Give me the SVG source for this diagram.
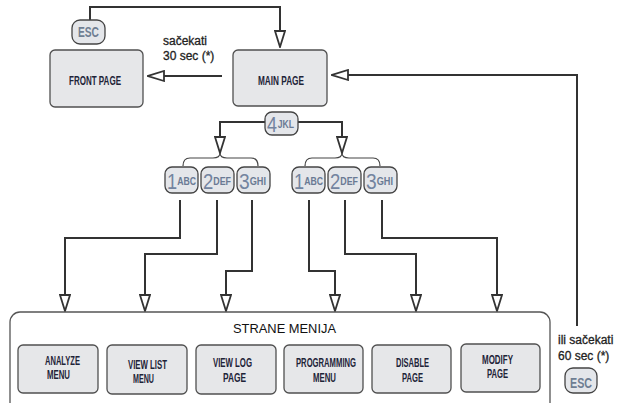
<svg xmlns="http://www.w3.org/2000/svg" width="619" height="403" viewBox="0 0 619 403">
<style>
.box{fill:#e6e7e9;stroke:#505050;stroke-width:1.3}
.key{fill:#e4e6ea;stroke:#444;stroke-width:1.3}
.bt{font-family:"Liberation Sans",Arial,sans-serif;font-weight:bold;font-size:12px;fill:#1e2438}
.kt{font-family:"Liberation Sans",Arial,sans-serif}
.dig{font-size:22px;fill:#7384a0}
.let{font-size:10.5px;font-weight:bold;fill:#6a7a94}
.esc{font-family:"Liberation Sans",Arial,sans-serif;font-size:14px;font-weight:bold;fill:#6f7e93}
.lbl{font-family:"Liberation Sans",Arial,sans-serif;font-size:12px;fill:#222;stroke:#222;stroke-width:0.3}
.ln{fill:none;stroke:#333;stroke-width:2}
.br{fill:none;stroke:#444;stroke-width:1.2}
</style>
<defs>
<marker id="ar" markerWidth="18" markerHeight="12" refX="17" refY="6" orient="auto" markerUnits="userSpaceOnUse">
<path d="M1,1 L17,6 L1,11 z" fill="#fff" stroke="#333" stroke-width="1.8"/>
</marker>
</defs>

<g id="connectors">
<path class="ln" d="M90,20 V7 H280 V47" marker-end="url(#ar)"/>
<path class="ln" d="M222,76 H148" marker-end="url(#ar)"/>
<path class="ln" d="M577,326 V75 H332" marker-end="url(#ar)"/>
<path class="ln" d="M265,122 H220 V153" marker-end="url(#ar)"/>
<path class="ln" d="M298,122 H342 V153" marker-end="url(#ar)"/>
<path class="br" d="M183,166 Q183,158 190,158 H213 Q220,158 220,153 Q220,158 227,158 H251 Q258,158 258,166"/>
<path class="br" d="M305,166 Q305,158 312,158 H335 Q342,158 342,153 Q342,158 349,158 H373 Q380,158 380,166"/>
<path class="ln" d="M180,200 V238 H65 V311" marker-end="url(#ar)"/>
<path class="ln" d="M217,200 V254 H145 V311" marker-end="url(#ar)"/>
<path class="ln" d="M252,200 V271 H226 V311" marker-end="url(#ar)"/>
<path class="ln" d="M309,200 V271 H335 V311" marker-end="url(#ar)"/>
<path class="ln" d="M345,200 V254 H416 V311" marker-end="url(#ar)"/>
<path class="ln" d="M382,200 V238 H497 V311" marker-end="url(#ar)"/>
</g>

<g id="esc-top">
<rect class="key" x="72" y="20" width="33" height="24" rx="8"/>
<text class="esc" x="78" y="37" textLength="21" lengthAdjust="spacingAndGlyphs">ESC</text>
</g>

<g id="front-page">
<rect class="box" x="50" y="50" width="93" height="57" rx="5"/>
<text class="bt" x="69" y="85" textLength="52" lengthAdjust="spacingAndGlyphs">FRONT PAGE</text>
</g>

<g id="main-page">
<rect class="box" x="233" y="50" width="94" height="56" rx="5"/>
<text class="bt" x="258" y="85" textLength="46" lengthAdjust="spacingAndGlyphs">MAIN PAGE</text>
</g>

<g id="wait30">
<text class="lbl" x="163" y="45">sačekati</text>
<text class="lbl" x="163" y="60">30 sec (*)</text>
</g>

<g id="key-4jkl">
<rect class="key" x="265" y="112" width="33" height="23" rx="7"/>
<text class="kt" x="267" y="132" textLength="27" lengthAdjust="spacingAndGlyphs"><tspan class="dig">4</tspan><tspan class="let" dx="1" dy="-4" font-size="10">JKL</tspan></text>
</g>

<g id="keys-left">
<rect class="key" x="165" y="167" width="33" height="26" rx="7"/>
<text class="kt" x="167" y="189" textLength="29" lengthAdjust="spacingAndGlyphs"><tspan class="dig">1</tspan><tspan class="let" dy="-4">ABC</tspan></text>
<rect class="key" x="201" y="167" width="33" height="26" rx="7"/>
<text class="kt" x="203" y="189" textLength="28" lengthAdjust="spacingAndGlyphs"><tspan class="dig">2</tspan><tspan class="let" dy="-4">DEF</tspan></text>
<rect class="key" x="237" y="167" width="33" height="26" rx="7"/>
<text class="kt" x="239" y="189" textLength="27" lengthAdjust="spacingAndGlyphs"><tspan class="dig">3</tspan><tspan class="let" dy="-4">GHI</tspan></text>
</g>

<g id="keys-right">
<rect class="key" x="292" y="167" width="33" height="26" rx="7"/>
<text class="kt" x="294" y="189" textLength="29" lengthAdjust="spacingAndGlyphs"><tspan class="dig">1</tspan><tspan class="let" dy="-4">ABC</tspan></text>
<rect class="key" x="328" y="167" width="33" height="26" rx="7"/>
<text class="kt" x="330" y="189" textLength="28" lengthAdjust="spacingAndGlyphs"><tspan class="dig">2</tspan><tspan class="let" dy="-4">DEF</tspan></text>
<rect class="key" x="364" y="167" width="33" height="26" rx="7"/>
<text class="kt" x="366" y="189" textLength="27" lengthAdjust="spacingAndGlyphs"><tspan class="dig">3</tspan><tspan class="let" dy="-4">GHI</tspan></text>
</g>

<g id="strane-menija">
<rect x="10" y="312" width="540" height="110" rx="10" fill="#fff" stroke="#555" stroke-width="1.3"/>
<text x="233" y="333" font-family="Liberation Sans, Arial, sans-serif" font-size="13" fill="#111" textLength="103" lengthAdjust="spacingAndGlyphs">STRANE MENIJA</text>
</g>

<g id="analyze-menu">
<rect class="box" x="18" y="345" width="80" height="48" rx="5"/>
<text class="bt" x="45" y="365" textLength="35" lengthAdjust="spacingAndGlyphs">ANALYZE</text>
<text class="bt" x="47" y="379" textLength="23" lengthAdjust="spacingAndGlyphs">MENU</text>
</g>
<g id="viewlist-menu">
<rect class="box" x="107" y="345" width="80" height="49" rx="5"/>
<text class="bt" x="128" y="369" textLength="39" lengthAdjust="spacingAndGlyphs">VIEW LIST</text>
<text class="bt" x="133" y="383" textLength="21" lengthAdjust="spacingAndGlyphs">MENU</text>
</g>
<g id="viewlog-page">
<rect class="box" x="196" y="345" width="80" height="49" rx="5"/>
<text class="bt" x="213" y="367" textLength="39" lengthAdjust="spacingAndGlyphs">VIEW LOG</text>
<text class="bt" x="223" y="382" textLength="23" lengthAdjust="spacingAndGlyphs">PAGE</text>
</g>
<g id="programming-menu">
<rect class="box" x="284" y="345" width="79" height="48" rx="5"/>
<text class="bt" x="296" y="367" textLength="60" lengthAdjust="spacingAndGlyphs">PROGRAMMING</text>
<text class="bt" x="313" y="382" textLength="23" lengthAdjust="spacingAndGlyphs">MENU</text>
</g>
<g id="disable-page">
<rect class="box" x="372" y="345" width="79" height="48" rx="5"/>
<text class="bt" x="396" y="367" textLength="33" lengthAdjust="spacingAndGlyphs">DISABLE</text>
<text class="bt" x="402" y="382" textLength="21" lengthAdjust="spacingAndGlyphs">PAGE</text>
</g>
<g id="modify-page">
<rect class="box" x="461" y="344" width="79" height="48" rx="5"/>
<text class="bt" x="482" y="364" textLength="31" lengthAdjust="spacingAndGlyphs">MODIFY</text>
<text class="bt" x="487" y="378" textLength="21" lengthAdjust="spacingAndGlyphs">PAGE</text>
</g>

<g id="wait60">
<text class="lbl" x="558" y="344">ili sačekati</text>
<text class="lbl" x="558" y="360">60 sec (*)</text>
</g>

<g id="esc-bottom">
<rect class="key" x="565" y="368" width="32" height="25" rx="8"/>
<text class="esc" x="570" y="388" textLength="22" lengthAdjust="spacingAndGlyphs">ESC</text>
</g>
</svg>
